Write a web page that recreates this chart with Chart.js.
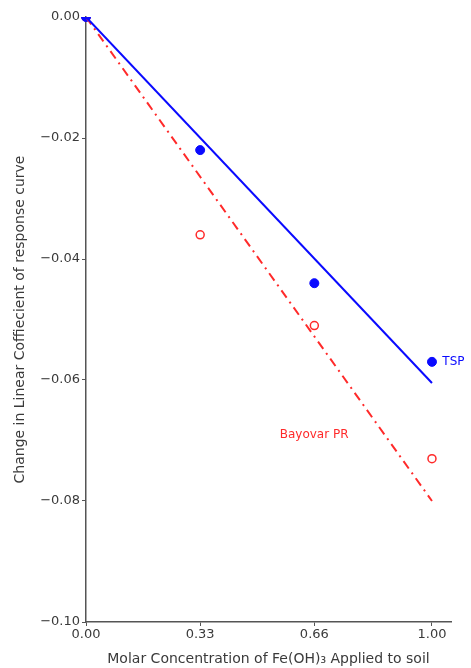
<!DOCTYPE html>
<html>
<head>
<meta charset="utf-8">
<script src="https://cdn.jsdelivr.net/npm/chart.js@4"></script>
<style>
  html, body { margin: 0; padding: 0; background: #fff; }
  #wrap { width: 471px; height: 668px; }
</style>
</head>
<body>
<div id="wrap"><canvas id="myChart" width="471" height="668"></canvas></div>
<script>
// data
const concentrations = [0, 0.33, 0.66, 1.00];
const tspValues = [0, -0.022, -0.044, -0.057];
const bayovarValues = [0, -0.036, -0.051, -0.073];
const fitX = [0, 1.00];
const tspFit = [0, -0.0605];
const bayovarFit = [0, -0.080];
const xTicks = [0, 0.33, 0.66, 1.00];
const yTicks = [0, -0.02, -0.04, -0.06, -0.08, -0.10];

const blue = '#0a0aff';
const red = '#ff2a2a';
const fontFamily = '"DejaVu Sans", sans-serif';

function pts(xs, ys) {
    return xs.map((x, i) => ({ x: x, y: ys[i] }));
}

// series labels drawn next to the data
const labelPlugin = {
    id: 'seriesLabels',
    afterDatasetsDraw(chart) {
        const c = chart.ctx;
        const xs = chart.scales.x, ys = chart.scales.y;
        c.save();
        c.font = '12px ' + fontFamily;
        c.textBaseline = 'middle';
        c.textAlign = 'left';
        c.fillStyle = blue;
        c.fillText('TSP', xs.getPixelForValue(1.03), ys.getPixelForValue(-0.057));
        c.fillStyle = red;
        c.fillText('Bayovar PR', xs.getPixelForValue(0.56), ys.getPixelForValue(-0.069));
        c.restore();
    }
};

const ctx = document.getElementById('myChart');
new Chart(ctx, {
    type: 'scatter',
    data: {
        datasets: [
            {
                label: 'TSP fit',
                type: 'line',
                data: pts(fitX, tspFit),
                borderColor: blue,
                borderWidth: 2,
                pointRadius: 0,
                fill: false
            },
            {
                label: 'Bayovar PR fit',
                type: 'line',
                data: pts(fitX, bayovarFit),
                borderColor: red,
                borderWidth: 2,
                borderDash: [9, 5, 2, 5],
                pointRadius: 0,
                fill: false
            },
            {
                label: 'TSP',
                data: pts(concentrations, tspValues),
                backgroundColor: blue,
                borderColor: blue,
                pointRadius: 4.5,
                clip: { top: 0, left: 6, right: 6, bottom: 6 }
            },
            {
                label: 'Bayovar PR',
                data: pts(concentrations, bayovarValues),
                backgroundColor: 'rgba(255,255,255,0)',
                borderColor: red,
                borderWidth: 1.5,
                pointRadius: 4,
                clip: { top: 0, left: 6, right: 6, bottom: 6 }
            }
        ]
    },
    options: {
        responsive: false,
        animation: false,
        layout: { padding: { top: 17, right: 20, left: 0, bottom: 0 } },
        plugins: {
            legend: { display: false },
            tooltip: { enabled: false }
        },
        scales: {
            x: {
                type: 'linear',
                min: 0,
                max: 1.055,
                afterBuildTicks(axis) {
                    axis.ticks = xTicks.map(v => ({ value: v }));
                },
                afterFit(axis) { axis.height = 46; },
                ticks: {
                    color: '#3a3a3a',
                    font: { family: fontFamily, size: 13 },
                    padding: 1,
                    callback: v => v.toFixed(2)
                },
                grid: { drawOnChartArea: false, tickLength: 4, color: '#555' },
                border: { color: '#555', width: 1.5 },
                title: {
                    display: true,
                    text: 'Molar Concentration of Fe(OH)\u2083 Applied to soil',
                    color: '#3a3a3a',
                    font: { family: fontFamily, size: 14 },
                    padding: { top: 2, bottom: 0 }
                }
            },
            y: {
                type: 'linear',
                min: -0.10,
                max: 0,
                afterBuildTicks(axis) {
                    axis.ticks = yTicks.map(v => ({ value: v }));
                },
                afterFit(axis) { axis.width = 86; },
                ticks: {
                    color: '#3a3a3a',
                    font: { family: fontFamily, size: 13 },
                    padding: 2,
                    callback: v => (v < 0 ? '\u2212' + Math.abs(v).toFixed(2) : v.toFixed(2))
                },
                grid: { drawOnChartArea: false, tickLength: 4, color: '#555' },
                border: { color: '#555', width: 1.5 },
                title: {
                    display: true,
                    text: 'Change in Linear Coffiecient of response curve',
                    color: '#3a3a3a',
                    font: { family: fontFamily, size: 14 },
                    padding: { top: 12, bottom: 0 }
                }
            }
        }
    },
    plugins: [labelPlugin]
});
</script>
</body>
</html>
